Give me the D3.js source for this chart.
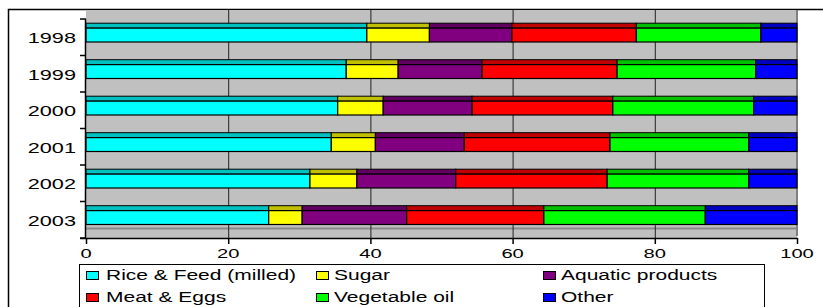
<!DOCTYPE html>
<html><head><meta charset="utf-8">
<script src="https://cdn.jsdelivr.net/npm/d3@7"></script>
<style>body{margin:0;background:#fff}svg{display:block}text{font-family:"Liberation Sans",Arial,sans-serif;fill:#000}</style>
</head><body>
<script>
const years = ["1998","1999","2000","2001","2002","2003"];
const seriesNames = ["Rice & Feed (milled)","Sugar","Aquatic products","Meat & Eggs","Vegetable oil","Other"];
const rice    = [39.5,36.6,35.4,34.5,31.5,25.7];
const sugar   = [8.8,7.3,6.4,6.2,6.6,4.7];
const aquatic = [11.6,11.8,12.5,12.5,13.9,14.7];
const meat    = [17.5,19.0,19.8,20.5,21.3,19.3];
const vegoil  = [17.5,19.5,19.8,19.5,19.9,22.7];
const other   = [5.1,5.8,6.1,6.8,6.8,12.9];
const xTicks  = [0,20,40,60,80,100];
const frontColors = ["#00FFFF","#FFFF00","#800080","#FF0000","#00FF00","#0000FF"];
const topColors   = ["#00C0C0","#C0C000","#600060","#C00000","#00C000","#0000C0"];

const W=823,H=307;
const svg=d3.select("body").append("svg").attr("width",W).attr("height",H);

// outer frame
svg.append("path").attr("d","M8.5,"+H+" V9.5 H"+W).attr("fill","none").attr("stroke","#000").attr("stroke-width",1.5);

const x=d3.scaleLinear().domain([0,100]).range([86,797]);
const y=d3.scaleBand().domain(years).range([19,238]);
const step=y.step();

// plot background (walls)
svg.append("rect").attr("x",x(0)).attr("y",10).attr("width",x(100)-x(0)).attr("height",238-10).attr("fill","#C0C0C0");
// floor line
svg.append("line").attr("x1",x(0)).attr("x2",x(100)).attr("y1",228.5).attr("y2",228.5).attr("stroke","#8a8a8a").attr("stroke-width",2);
// right wall edge
svg.append("line").attr("x1",x(100)).attr("x2",x(100)).attr("y1",10).attr("y2",236).attr("stroke","#808080").attr("stroke-width",2);
// gridlines
svg.append("g").selectAll("line").data(xTicks.filter(d=>d>0&&d<100)).join("line")
  .attr("x1",d=>x(d)+0.5).attr("x2",d=>x(d)+0.5).attr("y1",10).attr("y2",238)
  .attr("stroke","#222").attr("stroke-width",1);

// stacked data
const data=years.map((yr,i)=>{const o={year:yr};[rice,sugar,aquatic,meat,vegoil,other].forEach((a,j)=>o[seriesNames[j]]=a[i]);return o;});
const stack=d3.stack().keys(seriesNames)(data);

const g=svg.append("g");
stack.forEach((s,si)=>{
  const sg=g.append("g");
  sg.selectAll("rect.top").data(s).join("rect").attr("class","top")
    .attr("x",d=>x(d[0])).attr("width",d=>x(d[1])-x(d[0]))
    .attr("y",d=>y(d.data.year)+step*0.115).attr("height",step*0.135)
    .attr("fill",topColors[si]).attr("stroke","#000").attr("stroke-width",1);
  sg.selectAll("rect.front").data(s).join("rect").attr("class","front")
    .attr("x",d=>x(d[0])).attr("width",d=>x(d[1])-x(d[0]))
    .attr("y",d=>y(d.data.year)+step*0.25).attr("height",step*0.38)
    .attr("fill",frontColors[si]).attr("stroke","#000").attr("stroke-width",1.2);
});

// y axis
const yAxis=svg.append("g");
yAxis.append("line").attr("x1",85.5).attr("x2",85.5).attr("y1",19).attr("y2",238).attr("stroke","#000").attr("stroke-width",1.5);
yAxis.selectAll("line.t").data(years.concat(["end"])).join("line").attr("class","t")
  .attr("x1",80).attr("x2",86).attr("y1",(d,i)=>19+i*step).attr("y2",(d,i)=>19+i*step).attr("stroke","#000").attr("stroke-width",1.5);
yAxis.selectAll("text").data(years).join("text")
  .attr("transform",d=>`translate(76,${y(d)+step/2+6}) scale(1.55,1)`)
  .attr("text-anchor","end").attr("font-size",14).text(d=>d);

// x axis
const xAxis=svg.append("g");
xAxis.append("line").attr("x1",80).attr("x2",x(100)+1).attr("y1",238.5).attr("y2",238.5).attr("stroke","#000").attr("stroke-width",1.5);
xAxis.selectAll("line.t").data(xTicks).join("line").attr("class","t")
  .attr("x1",d=>x(d)+0.5).attr("x2",d=>x(d)+0.5).attr("y1",238).attr("y2",244).attr("stroke","#000").attr("stroke-width",1.5);
xAxis.selectAll("text").data(xTicks).join("text")
  .attr("transform",d=>`translate(${x(d)},258) scale(1.55,1)`)
  .attr("text-anchor","middle").attr("font-size",13).text(d=>d);

// legend
const lg=svg.append("g");
lg.append("rect").attr("x",79.5).attr("y",264.5).attr("width",685).attr("height",60).attr("fill","#fff").attr("stroke","#000").attr("stroke-width",1);
const colX=[86,316,543], textX=[106,334,561], rowY=[271,293];
seriesNames.forEach((n,i)=>{
  const c=i%3, r=Math.floor(i/3);
  lg.append("rect").attr("x",colX[c]+0.5).attr("y",rowY[r]+0.5).attr("width",12).attr("height",8)
    .attr("fill",frontColors[i]).attr("stroke","#000").attr("stroke-width",1);
  lg.append("text").attr("transform",`translate(${textX[c]},${rowY[r]+8.5}) scale(1.4,1)`)
    .attr("font-size",15).text(n);
});
</script>
</body></html>
